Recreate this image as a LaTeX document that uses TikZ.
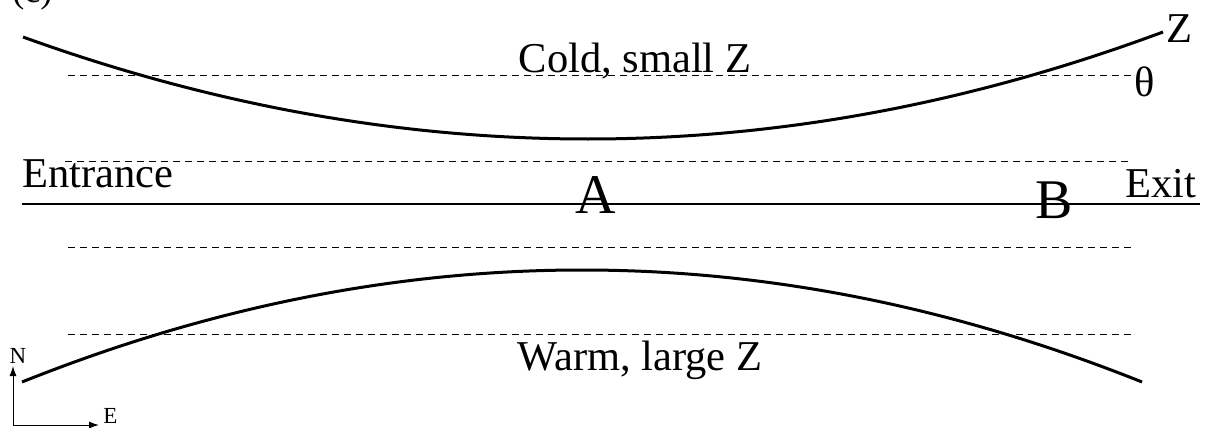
\documentclass[tikz,border=0pt]{standalone}
\usepackage{fontspec}
\setmainfont{Liberation Serif}
\usetikzlibrary{arrows.meta}
\begin{document}
\begin{tikzpicture}[x=0.5pt,y=-0.5pt,
  lbl/.style={inner sep=0pt,font=\fontsize{21.25}{25}\selectfont},
  big/.style={inner sep=0pt,font=\fontsize{28}{32}\selectfont},
  small/.style={inner sep=0pt,font=\fontsize{11.5}{13}\selectfont},
  curve/.style={line width=1.5pt},
  guide/.style={line width=0.5pt,dash pattern=on 3.5pt off 2.5pt},
  axis/.style={line width=0.5pt,-{Latex[length=5pt,width=3.5pt]}}]
\useasboundingbox (0,0) rectangle (1207,428);
% label (c), partly cut off at top
\node[lbl,anchor=base west,font=\fontsize{18}{20}\selectfont] (lab) at (12,3) {(c)};
% dashed guide lines
\draw[guide] (68,75) -- (1132,75);
\draw[guide] (65,161) -- (1128,161);
\draw[guide] (68,247) -- (1132,247);
\draw[guide] (68,334) -- (1132,334);
% central solid line
\draw[line width=1pt] (22,204) -- (1200,204);
% top curve
\draw[curve] (23,37) .. controls (211.3,105) and (399.7,139) .. (588,139)
  .. controls (779.7,139) and (971.3,103.3) .. (1163,32);
% bottom curve
\draw[curve] (22,382) .. controls (208.7,307.3) and (395.3,270) .. (582,270)
  .. controls (768.7,270) and (955.3,307.3) .. (1142,382);
% texts
\node[lbl,anchor=base] (cold) at (635,72) {Cold, small Z};
\node[lbl,anchor=base] (warm) at (640,370) {Warm, large Z};
\node[lbl,anchor=base west] (ent) at (22,187) {Entrance};
\node[lbl,anchor=base west] (exit) at (1125,197) {Exit};
\node[big,anchor=base] (A) at (596,213) {A};
\node[big,anchor=base] (B) at (1054,218) {B};
\node[lbl,anchor=base west] (Z) at (1166,42) {Z};
\node[lbl,anchor=base] (th) at (1145,97) {θ};
% compass
\coordinate (o) at (13,425);
\coordinate (nt) at (13,366);
\coordinate (et) at (99,425);
\draw[axis] (o) -- (nt);
\draw[axis] (o) -- (et);
\node[small,anchor=base] (N) at (18,363) {N};
\node[small,anchor=base west] (E) at (103,423) {E};
\end{tikzpicture}
\end{document}
